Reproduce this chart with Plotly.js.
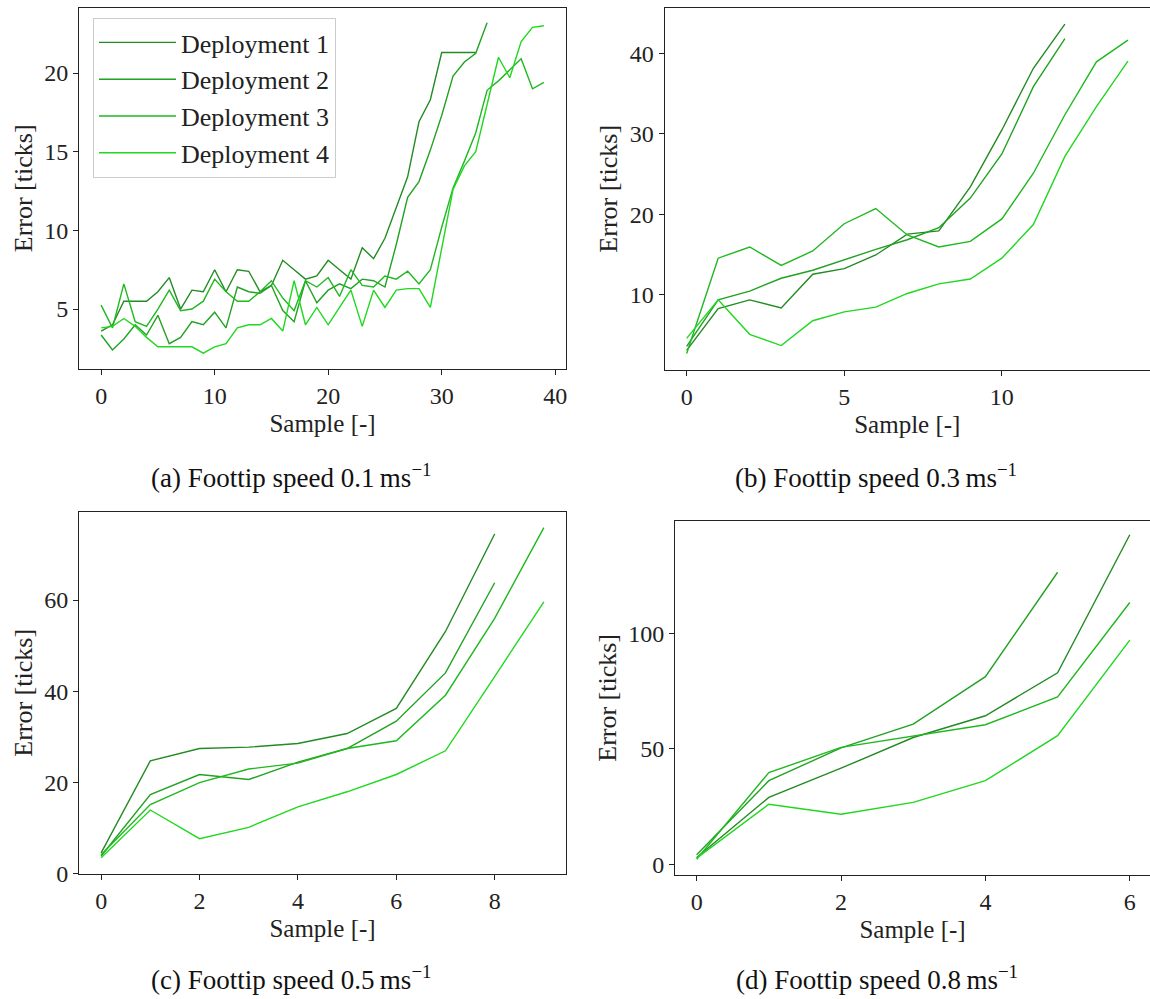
<!DOCTYPE html>
<html><head><meta charset="utf-8">
<script src="https://cdn.plot.ly/plotly-3.0.1.min.js"></script>
<style>html,body{margin:0;padding:0;background:#fff}#chart{width:1150px;height:999px}</style>
</head><body><div id="chart"></div>
<script>
// ---- data ----
const deploymentNames = ['Deployment 1', 'Deployment 2', 'Deployment 3', 'Deployment 4'];
const deploymentColors = ['#238B23', '#21A221', '#1FB81F', '#1FD81F'];

// (a) foottip speed 0.1 m/s
const a_dep1 = [3.6, 4.0, 5.5, 5.5, 5.5, 6.1, 7.0, 5.0, 6.2, 6.1, 7.5, 6.1, 7.5, 7.4, 6.1, 6.5, 8.1, 7.5, 6.9, 7.1, 8.1, 7.5, 6.9, 8.9, 8.2, 9.5, 11.5, 13.4, 16.9, 18.3, 21.3, 21.3, 21.3, 21.3];
const a_dep2 = [3.35, 2.4, 3.1, 4.0, 3.35, 4.6, 2.8, 3.2, 4.2, 4.0, 4.8, 3.8, 6.4, 6.1, 6.0, 6.5, 4.9, 4.2, 6.8, 5.4, 6.2, 6.6, 6.3, 6.9, 6.8, 6.4, 9.1, 12.1, 13.1, 15.1, 17.3, 19.8, 20.7, 21.25, 23.2];
const a_dep3 = [5.25, 3.8, 6.6, 4.2, 3.9, 5.0, 6.2, 4.9, 5.0, 5.5, 6.9, 6.1, 5.5, 5.5, 6.1, 6.8, 5.7, 4.9, 6.8, 6.4, 7.0, 5.8, 7.5, 6.5, 6.4, 7.1, 6.9, 7.4, 6.6, 7.5, 10.2, 12.7, 14.4, 16.2, 18.9, 19.5, 20.2, 20.9, 19.0, 19.4];
const a_dep4 = [3.8, 3.9, 4.4, 3.9, 3.2, 2.6, 2.6, 2.6, 2.6, 2.2, 2.6, 2.8, 3.8, 4.0, 4.0, 4.4, 3.6, 6.8, 4.0, 5.1, 4.0, 5.1, 6.2, 3.9, 6.2, 5.1, 6.2, 6.3, 6.3, 5.1, 8.9, 12.6, 14.1, 15.0, 18.0, 21.0, 19.7, 22.0, 22.9, 23.0];

// (b) foottip speed 0.3 m/s
const b_dep1 = [3.0, 8.2, 9.3, 8.3, 12.5, 13.2, 14.9, 17.5, 17.9, 23.4, 30.5, 38.2, 43.7];
const b_dep2 = [3.5, 9.3, 10.4, 12.0, 13.0, 14.3, 15.6, 16.8, 18.3, 22.0, 27.5, 35.9, 41.9];
const b_dep3 = [2.6, 14.5, 15.9, 13.6, 15.4, 18.8, 20.7, 17.4, 15.9, 16.6, 19.4, 25.1, 32.4, 39.0, 41.7];
const b_dep4 = [4.5, 9.3, 5.0, 3.6, 6.7, 7.8, 8.4, 10.1, 11.3, 11.9, 14.5, 18.7, 27.2, 33.4, 39.1];

// (c) foottip speed 0.5 m/s
const c_dep1 = [4.5, 24.7, 27.4, 27.7, 28.5, 30.7, 36.2, 53.1, 74.5];
const c_dep2 = [3.8, 17.3, 21.7, 20.6, 24.4, 27.4, 33.4, 44.0, 63.8];
const c_dep3 = [4.1, 15.1, 19.9, 22.9, 24.2, 27.4, 29.1, 39.1, 56.0, 75.9];
const c_dep4 = [3.4, 13.9, 7.6, 10.1, 14.6, 17.9, 21.7, 26.9, 43.2, 59.6];

// (d) foottip speed 0.8 m/s
const d_dep1 = [3.0, 29.0, 41.6, 54.9, 64.3, 82.9, 142.6];
const d_dep2 = [4.2, 36.2, 50.4, 60.7, 81.2, 126.4];
const d_dep3 = [2.2, 39.7, 50.6, 55.4, 60.4, 72.5, 113.3];
const d_dep4 = [2.7, 26.0, 21.7, 26.8, 36.2, 55.7, 97.0];

const captions = [
  '(a) Foottip speed 0.1\u2009ms<sup>\u22121</sup>',
  '(b) Foottip speed 0.3\u2009ms<sup>\u22121</sup>',
  '(c) Foottip speed 0.5\u2009ms<sup>\u22121</sup>',
  '(d) Foottip speed 0.8\u2009ms<sup>\u22121</sup>'
];
const xTitle = 'Sample [-]';
const yTitle = 'Error [ticks]';

// ---- build ----
const FONT = 'Liberation Serif, Times New Roman, serif';
const panels = [
  {series: [a_dep1, a_dep2, a_dep3, a_dep4], xa: 'x', ya: 'y', legend: true},
  {series: [b_dep1, b_dep2, b_dep3, b_dep4], xa: 'x2', ya: 'y2', legend: false},
  {series: [c_dep1, c_dep2, c_dep3, c_dep4], xa: 'x3', ya: 'y3', legend: false},
  {series: [d_dep1, d_dep2, d_dep3, d_dep4], xa: 'x4', ya: 'y4', legend: false}
];
const traces = [];
panels.forEach(p => {
  p.series.forEach((ys, k) => {
    traces.push({
      type: 'scatter', mode: 'lines',
      x: ys.map((_, i) => i), y: ys,
      xaxis: p.xa, yaxis: p.ya,
      name: deploymentNames[k],
      showlegend: p.legend,
      line: {color: deploymentColors[k], width: 1.4},
      hoverinfo: 'skip'
    });
  });
});

const W = 1150, H = 999;
function xAx(left, right, range, dtick, anchor, mirror) {
  return {
    domain: [left / W, right / W], range: range, dtick: dtick, tick0: 0, anchor: anchor,
    showline: true, linecolor: '#222', linewidth: 1, mirror: mirror,
    ticks: 'outside', ticklen: 5, tickwidth: 1, tickcolor: '#222',
    showgrid: false, zeroline: false, automargin: false,
    tickfont: {family: FONT, size: 24, color: '#222'},
    title: {text: xTitle, font: {family: FONT, size: 25, color: '#222'}, standoff: 6}
  };
}
function yAx(top, bottom, range, dtick, anchor, mirror) {
  return {
    domain: [1 - bottom / H, 1 - top / H], range: range, dtick: dtick, tick0: 0, anchor: anchor,
    showline: true, linecolor: '#222', linewidth: 1, mirror: mirror,
    ticks: 'outside', ticklen: 5, tickwidth: 1, tickcolor: '#222',
    showgrid: false, zeroline: false, automargin: false,
    tickfont: {family: FONT, size: 24, color: '#222'},
    title: {text: yTitle, font: {family: FONT, size: 26, color: '#222'}, standoff: 4}
  };
}

const layout = {
  width: W, height: H,
  margin: {l: 0, r: 0, t: 0, b: 0},
  paper_bgcolor: '#fff', plot_bgcolor: '#fff',
  font: {family: FONT, color: '#222'},
  xaxis:  xAx(79, 566, [-1.95, 40.95], 10, 'y', true),
  yaxis:  yAx(7.7, 369, [1.19, 24.15], 5, 'x', true),
  xaxis2: xAx(664.6, 1150, [-0.7, 14.7], 5, 'y2', true),
  yaxis2: yAx(7.5, 370, [0.55, 45.78], 10, 'x2', false),
  xaxis3: xAx(79, 566, [-0.45, 9.45], 2, 'y3', true),
  yaxis3: yAx(511.7, 874, [-0.15, 79.4], 20, 'x3', true),
  xaxis4: xAx(675, 1150, [-0.3, 6.28], 2, 'y4', true),
  yaxis4: yAx(520.7, 875, [-4.6, 148.7], 50, 'x4', false),
  showlegend: true,
  legend: {
    x: 93 / W, y: 1 - 18 / H, xanchor: 'left', yanchor: 'top',
    itemwidth: 77,
    bgcolor: 'rgba(255,255,255,0.9)', bordercolor: '#cccccc', borderwidth: 1,
    font: {family: FONT, size: 26, color: '#222'}
  },
  annotations: [
    {text: captions[0], x: 291 / W, y: 1 - 476 / H},
    {text: captions[1], x: 876 / W, y: 1 - 476 / H},
    {text: captions[2], x: 291 / W, y: 1 - 978 / H},
    {text: captions[3], x: 877 / W, y: 1 - 978 / H}
  ].map(a => Object.assign(a, {xref: 'paper', yref: 'paper', xanchor: 'center', yanchor: 'middle',
    showarrow: false, font: {family: FONT, size: 27, color: '#111'}}))
};

Plotly.newPlot('chart', traces, layout, {staticPlot: true, displayModeBar: false});
</script></body></html>
